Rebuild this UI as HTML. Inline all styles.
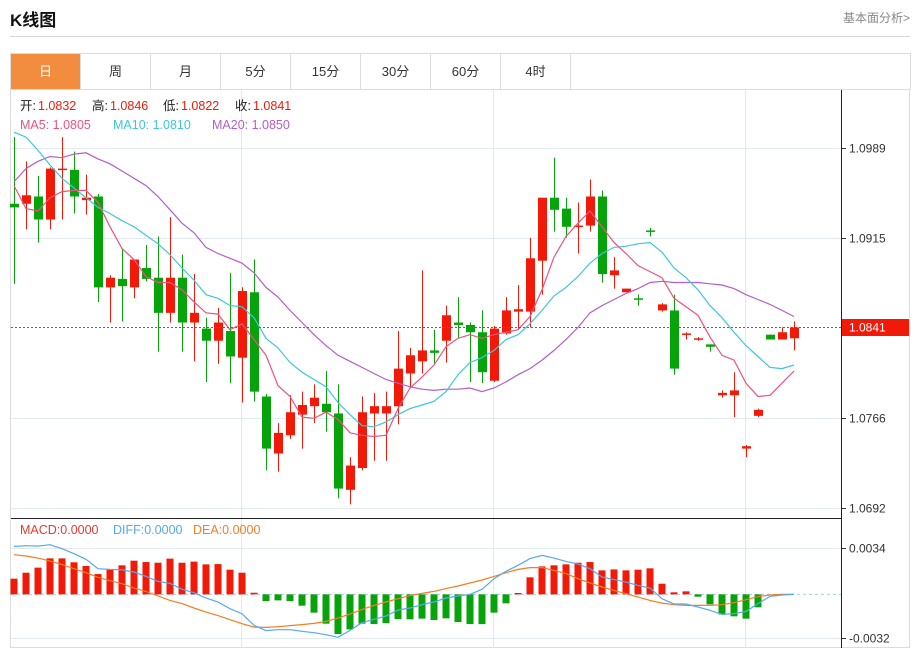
<!DOCTYPE html>
<html><head><meta charset="utf-8">
<style>
html,body{margin:0;padding:0;background:#fff;width:920px;height:648px;overflow:hidden;font-family:"Liberation Sans","Noto Sans CJK SC",sans-serif;}
#title{position:absolute;left:10px;top:6px;font-size:17px;font-weight:bold;color:#111;}
#more{position:absolute;right:10px;top:9px;font-size:12px;color:#888;}
#hr{position:absolute;left:10px;top:36px;width:900px;height:1px;background:#d4d4d4;}
#tabs{position:absolute;left:10px;top:53px;width:899px;height:35px;border:1px solid #dcdcdc;border-bottom:1px solid #e3e3e3;}
.tab{position:absolute;top:0;height:35px;width:69px;border-right:1px solid #dcdcdc;text-align:center;line-height:35px;font-size:13px;color:#333;}
.tab.on{background:#f28c3f;color:#fff;}
svg{position:absolute;left:0;top:0;}
</style></head><body>
<div id="title">K线图</div>
<div id="more">基本面分析&gt;</div>
<div id="hr"></div>
<div id="tabs">
<div class="tab on" style="left:0">日</div>
<div class="tab" style="left:70px">周</div>
<div class="tab" style="left:140px">月</div>
<div class="tab" style="left:210px">5分</div>
<div class="tab" style="left:280px">15分</div>
<div class="tab" style="left:350px">30分</div>
<div class="tab" style="left:420px">60分</div>
<div class="tab" style="left:490px">4时</div>
</div>
<svg id="chart" width="920" height="648" xmlns="http://www.w3.org/2000/svg"></svg>
<script>
const opens=[1.0943,1.0943,1.0949,1.0930,1.0971,1.0971,1.0946,1.0949,1.0874,1.0881,1.0874,1.0890,1.0882,1.0853,1.0882,1.0845,1.0840,1.0830,1.0838,1.0816,1.0870,1.0784,1.0737,1.0752,1.0769,1.0776,1.0778,1.0770,1.0707,1.0725,1.0770,1.0770,1.0776,1.0803,1.0813,1.0822,1.0830,1.0845,1.0843,1.0837,1.0797,1.0836,1.0854,1.0854,1.0896,1.0948,1.0939,1.0924,1.0925,1.0949,1.0884,1.0870,1.0865,1.0921,1.0855,1.0855,1.0835,1.0831,1.0827,1.0785,1.0785,1.0741,1.0768,1.0835,1.0831,1.0832];
const closes=[1.0940,1.0950,1.0930,1.0972,1.0972,1.0949,1.0948,1.0874,1.0882,1.0875,1.0897,1.0881,1.0853,1.0882,1.0845,1.0853,1.0830,1.0845,1.0817,1.0871,1.0788,1.0741,1.0754,1.0771,1.0777,1.0783,1.0771,1.0708,1.0727,1.0771,1.0776,1.0776,1.0807,1.0818,1.0822,1.0820,1.0851,1.0843,1.0837,1.0804,1.0840,1.0855,1.0856,1.0898,1.0948,1.0938,1.0924,1.0925,1.0949,1.0885,1.0888,1.0873,1.0864,1.0920,1.0860,1.0807,1.0836,1.0832,1.0825,1.0787,1.0789,1.0743,1.0773,1.0831,1.0837,1.0841];
const highs=[1.0998,1.0978,1.0966,1.0973,1.0998,1.0986,1.0967,1.0951,1.0884,1.0906,1.0897,1.0909,1.0916,1.0932,1.0901,1.0885,1.0849,1.0857,1.0886,1.0874,1.0897,1.0786,1.0762,1.0785,1.0788,1.0794,1.0805,1.0794,1.0734,1.0784,1.0787,1.0788,1.0838,1.0824,1.0888,1.0839,1.0859,1.0866,1.0845,1.0855,1.0842,1.0866,1.0876,1.0915,1.0948,1.0981,1.0948,1.0944,1.0963,1.0954,1.0899,1.0873,1.0868,1.0923,1.0861,1.0868,1.0837,1.0833,1.0827,1.0789,1.0804,1.0744,1.0774,1.0835,1.0841,1.0846];
const lows=[1.0877,1.0922,1.0911,1.0922,1.0930,1.0935,1.0934,1.0862,1.0845,1.0846,1.0865,1.0879,1.0821,1.0845,1.0821,1.0813,1.0796,1.0811,1.0795,1.0779,1.0780,1.0723,1.0722,1.0749,1.0741,1.0762,1.0755,1.0700,1.0695,1.0723,1.0731,1.0731,1.0761,1.0792,1.0803,1.0811,1.0812,1.0832,1.0796,1.0795,1.0796,1.0835,1.0840,1.0841,1.0868,1.0920,1.0915,1.0902,1.0920,1.0878,1.0873,1.0870,1.0859,1.0916,1.0854,1.0802,1.0831,1.0830,1.0821,1.0783,1.0767,1.0734,1.0767,1.0831,1.0831,1.0822];
const ma5=[1.0958,1.0939,1.0937,1.0948,1.0953,1.0954,1.0954,1.0944,1.0924,1.0906,1.0897,1.0883,1.0878,1.0878,1.0872,1.0862,1.0853,1.0852,1.0839,1.0844,1.0831,1.0818,1.0793,1.0784,1.0767,1.0766,1.0771,1.0765,1.0754,1.0752,1.0751,1.0752,1.0774,1.0791,1.0800,1.0810,1.0825,1.0832,1.0835,1.0832,1.0835,1.0837,1.0839,1.0850,1.0872,1.0899,1.0916,1.0927,1.0937,1.0924,1.0911,1.0902,1.0892,1.0887,1.0882,1.0865,1.0858,1.0851,1.0833,1.0818,1.0814,1.0795,1.0784,1.0785,1.0795,1.0805];
const ma10=[1.1002,1.0998,1.0987,1.0975,1.0964,1.0956,1.0948,1.0940,1.0935,1.0929,1.0924,1.0917,1.0910,1.0901,1.0890,1.0880,1.0868,1.0865,1.0859,1.0858,1.0849,1.0832,1.0824,1.0812,1.0804,1.0798,1.0792,1.0779,1.0769,1.0760,1.0759,1.0763,1.0769,1.0774,1.0777,1.0780,1.0788,1.0802,1.0812,1.0816,1.0822,1.0831,1.0835,1.0844,1.0855,1.0867,1.0874,1.0883,1.0894,1.0902,1.0907,1.0908,1.0910,1.0911,1.0903,1.0890,1.0882,1.0872,1.0859,1.0849,1.0837,1.0826,1.0817,1.0808,1.0807,1.0810];
const ma20=[1.0961,1.0972,1.0978,1.0982,1.0981,1.0984,1.0985,1.0980,1.0976,1.0970,1.0964,1.0958,1.0949,1.0938,1.0927,1.0919,1.0907,1.0902,1.0898,1.0894,1.0886,1.0874,1.0866,1.0855,1.0845,1.0835,1.0826,1.0818,1.0813,1.0808,1.0803,1.0798,1.0795,1.0792,1.0790,1.0789,1.0790,1.0790,1.0791,1.0788,1.0791,1.0796,1.0802,1.0807,1.0814,1.0822,1.0831,1.0841,1.0853,1.0859,1.0864,1.0869,1.0873,1.0878,1.0879,1.0878,1.0878,1.0878,1.0877,1.0876,1.0873,1.0868,1.0864,1.0860,1.0855,1.0850];
const macdHist=[0.00115,0.00159,0.00196,0.00264,0.00264,0.00235,0.00208,0.00149,0.00186,0.00213,0.00247,0.00237,0.00232,0.00262,0.00232,0.0024,0.0022,0.00222,0.00181,0.00159,0.00012,-0.00049,-0.00044,-0.00049,-0.00083,-0.00134,-0.00215,-0.00291,-0.00257,-0.00215,-0.00218,-0.0021,-0.00181,-0.00183,-0.00178,-0.00188,-0.00176,-0.00203,-0.00218,-0.00218,-0.00134,-0.00066,0.0001,0.00125,0.00205,0.00213,0.0022,0.00232,0.00237,0.00176,0.00183,0.00176,0.00181,0.00191,0.00078,0.00015,0.00022,-0.00017,-0.00073,-0.00147,-0.00161,-0.00178,-0.00095,0,0,0];
const diffLine=[0.00352,0.00357,0.00354,0.00364,0.00335,0.00298,0.00257,0.00188,0.00183,0.0018,0.00164,0.00132,0.00095,0.00081,0.00037,0.00012,-0.00027,-0.00056,-0.00105,-0.00142,-0.00227,-0.00266,-0.00259,-0.00259,-0.00271,-0.00281,-0.00296,-0.00315,-0.00264,-0.00208,-0.00183,-0.00159,-0.00115,-0.001,-0.00076,-0.00056,-0.00027,-0.00012,0,0.00037,0.00115,0.00169,0.00213,0.00262,0.00286,0.00266,0.00242,0.00222,0.00188,0.00127,0.00108,0.0009,0.00066,0.00046,-0.00032,-0.00071,-0.00071,-0.00093,-0.00117,-0.00147,-0.00142,-0.00125,-0.00068,-0.00015,-0.00005,0];
const deaLine=[0.00291,0.00281,0.00266,0.00244,0.00218,0.00188,0.00159,0.00125,0.001,0.00078,0.00046,0.00022,-0.00012,-0.00044,-0.00068,-0.001,-0.0013,-0.00156,-0.00186,-0.00215,-0.0024,-0.00242,-0.00237,-0.00229,-0.00222,-0.00213,-0.00198,-0.00174,-0.00144,-0.0011,-0.00081,-0.00056,-0.00032,-0.0001,0.00007,0.00022,0.00042,0.00061,0.00083,0.00105,0.00132,0.00159,0.00183,0.00196,0.00196,0.00176,0.00152,0.00115,0.00083,0.00054,0.00029,0.00005,-0.0002,-0.00044,-0.00064,-0.00076,-0.00081,-0.00081,-0.00081,-0.00076,-0.00061,-0.00039,-0.00017,-0.00005,0,0];
const priceTicks=[1.0989,1.0915,1.0766,1.0692];
const priceTickLabels=["1.0989","1.0915","1.0766","1.0692"];
const macdTicks=[0.0034,-0.0032];
const macdTickLabels=["0.0034","-0.0032"];
const lastPrice=1.0841;

const NS="http://www.w3.org/2000/svg";
const svg=document.getElementById('chart');
function xAt(i){return 14+12*i;}
function yP(p){return 148+(1.0989-p)*(360/0.0297);}
function yM(v){return 548+(0.0034-v)*(90/0.0066);}
function el(t,a,parent){const e=document.createElementNS(NS,t);for(const k in a)e.setAttribute(k,a[k]);(parent||svg).appendChild(e);return e;}
const RED="#f11a08",GREEN="#06a30b";

// frame
let e;
e=el('rect',{x:10.5,y:89.5,width:899,height:558,fill:'none',stroke:'#dcdcdc'});


// vertical grid
[241,493,745].forEach(function(x){
 e=el('line',{x1:x+0.5,x2:x+0.5,y1:90,y2:648,stroke:'#e2eaf1'});
 
 
});
// price grid + ticks
priceTicks.forEach(function(p,i){
 const y=Math.round(yP(p))+0.5;
 e=el('line',{x1:11,x2:841,y1:y,y2:y,stroke:'#e2eaf1'});
 
 
 el('line',{x1:841,x2:846,y1:y,y2:y,stroke:'#333'});
 e=el('text',{x:849,y:y+4,'font-size':12,fill:'#333'});
 e.textContent=priceTickLabels[i];
 
 
});
// macd grid
macdTicks.forEach(function(v,i){
 const y=Math.round(yM(v))+0.5;
 e=el('line',{x1:11,x2:841,y1:y,y2:y,stroke:'#e2eaf1'});
 
 
 el('line',{x1:841,x2:846,y1:y,y2:y,stroke:'#333'});
 e=el('text',{x:849,y:y+4,'font-size':12,fill:'#333'});
 e.textContent=macdTickLabels[i];
 
 
});
// axes
e=el('line',{x1:841.5,x2:841.5,y1:90,y2:648,stroke:'#222'});


e=el('line',{x1:11,x2:841,y1:518.5,y2:518.5,stroke:'#222'});



// MA lines
function line(arr,f,color,name){
 let d='';arr.forEach(function(v,i){d+=(i?'L':'M')+xAt(i)+','+f(v).toFixed(1);});
 const p=el('path',{d:d,fill:'none',stroke:color,'stroke-width':1.2});
 
 
}
// candles
for(let i=0;i<opens.length;i++){
 const up=closes[i]>=opens[i],c=up?RED:GREEN,x=xAt(i);
 const g=el('g',{});
 
 
 el('line',{x1:x+0.5,x2:x+0.5,y1:yP(highs[i]),y2:yP(lows[i]),stroke:c},g);
 const t=yP(Math.max(opens[i],closes[i])),b=yP(Math.min(opens[i],closes[i]));
 el('rect',{x:x-4,y:t,width:9,height:Math.max(1.5,b-t),fill:c},g);
}
line(ma20,yP,'#b45dc9','ma20-line');
line(ma10,yP,'#3ec6dc','ma10-line');
line(ma5,yP,'#ea5381','ma5-line');
// last price line
const ly=Math.round(yP(lastPrice))+0.5;
e=el('line',{x1:11,x2:841,y1:ly,y2:ly,stroke:'#d33','stroke-dasharray':'2,2'});


e=el('rect',{x:842,y:ly-8.5,width:67,height:17,fill:'#f11a08'});


e=el('text',{x:849,y:ly+4,'font-size':12,fill:'#fff'});
e.textContent=lastPrice.toFixed(4);



// MACD
const z=yM(0);
e=el('line',{x1:11,x2:841,y1:z,y2:z,stroke:'#a8cce8','stroke-dasharray':'3,3'});


macdHist.forEach(function(v,i){
 if(v===0)return;
 const y=yM(v),x=xAt(i);
 e=el('rect',{x:x-3.5,y:Math.min(y,z),width:7,height:Math.max(1,Math.abs(y-z)),fill:v>0?RED:GREEN});
 
 
});
line(deaLine,yM,'#f57d22','dea-line');
line(diffLine,yM,'#55a8f2','diff-line');

// legends
function txt(x,y,s,color,name){const t=el('text',{x:x,y:y,'font-size':12.5,fill:color});t.textContent=s;return t;}
txt(20,110,'开:','#222','legend-open-label');txt(38,110,'1.0832','#f11a08','legend-open');
txt(92,110,'高:','#222','legend-high-label');txt(110,110,'1.0846','#f11a08','legend-high');
txt(163,110,'低:','#222','legend-low-label');txt(181,110,'1.0822','#f11a08','legend-low');
txt(235,110,'收:','#222','legend-close-label');txt(253,110,'1.0841','#f11a08','legend-close');
txt(20,129,'MA5: 1.0805','#ea5381','legend-ma5');
txt(113,129,'MA10: 1.0810','#3ec6dc','legend-ma10');
txt(212,129,'MA20: 1.0850','#b45dc9','legend-ma20');
txt(20,534,'MACD:0.0000','#e8392f','legend-macd');
txt(113,534,'DIFF:0.0000','#55a8f2','legend-diff');
txt(193,534,'DEA:0.0000','#f57d22','legend-dea');
</script>
</body></html>
